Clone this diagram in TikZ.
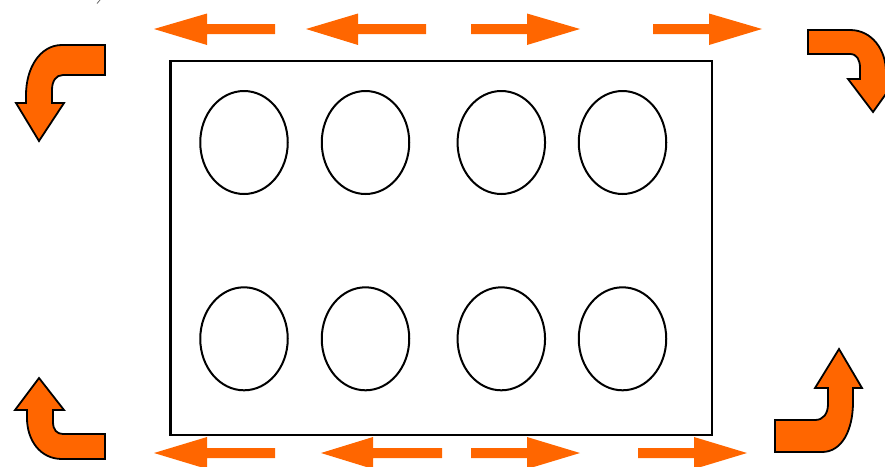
\documentclass[tikz,border=0pt]{standalone}
\usetikzlibrary{shapes.geometric}
\definecolor{arrorange}{RGB}{255,102,0}
\tikzset{
  flatarrow/.style={fill=arrorange, draw=none},
  bentarrow/.style={fill=arrorange, draw=black, line width=1.8pt, line join=miter},
  well/.style={draw=black, line width=2pt, ellipse, minimum width=87.5pt, minimum height=103pt, inner sep=0pt},
  plate/.style={draw=black, line width=2.4pt, rectangle, inner sep=0pt}
}
\begin{document}
\begin{tikzpicture}[x=1pt,y=-1pt]
\useasboundingbox (0,0) rectangle (885,466);
\clip (0,0) rectangle (885,466);
% plate
\node[plate, minimum width=541.5pt, minimum height=374pt] (plate) at (441.25,248) {};
% wells
\node[well] (a1) at (244,142.5) {};
\node[well] (a2) at (365.5,142.5) {};
\node[well] (a3) at (501.3,142.5) {};
\node[well] (a4) at (622.5,142.5) {};
\node[well] (b1) at (244,338.8) {};
\node[well] (b2) at (365.5,338.8) {};
\node[well] (b3) at (501.3,338.8) {};
\node[well] (b4) at (622.5,338.8) {};
% top straight arrows
\fill[flatarrow] (154,29) -- (207,13.5) -- (207,24) -- (275,24) -- (275,34) -- (207,34) -- (207,45) -- cycle;
\fill[flatarrow] (306,29) -- (358,13.5) -- (358,24) -- (426,24) -- (426,34) -- (358,34) -- (358,45) -- cycle;
\fill[flatarrow] (580,29) -- (527,13.5) -- (527,24) -- (471,24) -- (471,34) -- (527,34) -- (527,45) -- cycle;
\fill[flatarrow] (762,29) -- (709,13.5) -- (709,24) -- (653,24) -- (653,34) -- (709,34) -- (709,45) -- cycle;
% bottom straight arrows
\fill[flatarrow] (154,453) -- (207,437) -- (207,448) -- (275,448) -- (275,458) -- (207,458) -- (207,469) -- cycle;
\fill[flatarrow] (321,453) -- (373,437) -- (373,448) -- (442,448) -- (442,458) -- (373,458) -- (373,469) -- cycle;
\fill[flatarrow] (580,453) -- (527,437) -- (527,448) -- (471,448) -- (471,458) -- (527,458) -- (527,469) -- cycle;
\fill[flatarrow] (747,453) -- (694,437) -- (694,448) -- (638,448) -- (638,458) -- (694,458) -- (694,469) -- cycle;
% top-left bent arrow
\draw[bentarrow] (105,45) -- (62,45) .. controls (40,45) and (26,68) .. (26,95) -- (26,103) -- (16,103) -- (39,141) -- (64,103) -- (52,103) -- (52,90) .. controls (52,81) and (56,75) .. (63,75) -- (105,75) -- cycle;
% top-right bent arrow
\draw[bentarrow] (808,30) -- (850,30) .. controls (872,30) and (886,50) .. (886,72) -- (886,79) -- (898,77) -- (873,112) -- (848,79) -- (860,79) -- (860,68) .. controls (860,60) and (857,54) .. (850,54) -- (808,54) -- cycle;
% bottom-left bent arrow
\draw[bentarrow] (105,459) -- (62,459) .. controls (40,459) and (27,440) .. (27,418) -- (27,410) -- (15,410) -- (39,378) -- (64,410) -- (53,410) -- (53,422) .. controls (53,430) and (57,434) .. (63,434) -- (105,434) -- cycle;
% bottom-right bent arrow
\draw[bentarrow] (775,452) -- (822,452) .. controls (842,452) and (853,430) .. (853,402) -- (853,388) -- (862,388) -- (839,349) -- (815,388) -- (828,388) -- (828,404) .. controls (828,414) and (823,420) .. (815,420) -- (775,420) -- cycle;
% small stray mark at the top
\draw[black!60, line width=0.8pt] (97,3.5) -- (100,0);
\end{tikzpicture}
\end{document}
